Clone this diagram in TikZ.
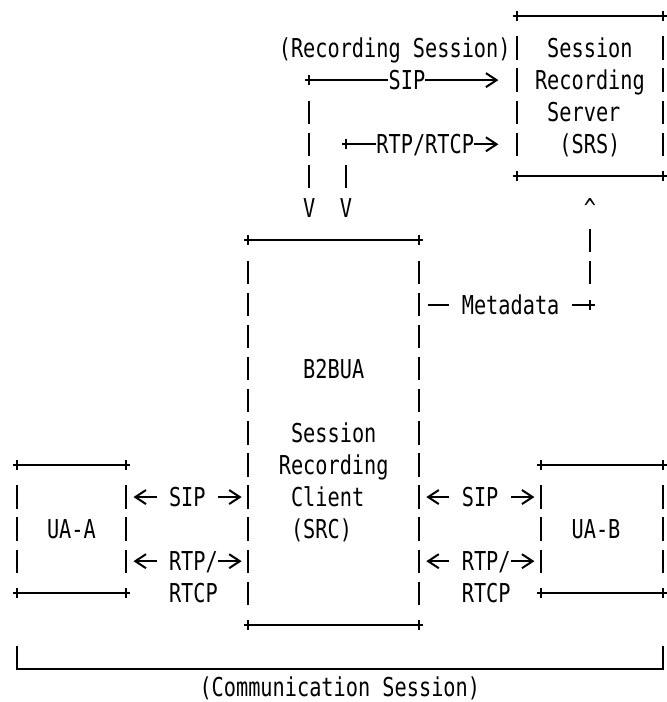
\documentclass[tikz,border=0pt]{standalone}
\usepackage{fontspec}
\usetikzlibrary{arrows.meta,calc}
\newfontfamily\asciifont[FakeStretch=0.7794]{DejaVu Sans Mono}
\tikzset{
  txt/.style={font=\asciifont\fontsize{19.5pt}{24pt}\selectfont, inner sep=0pt,
              text height=14.22pt, text depth=0pt, anchor=center},
  boxn/.style={rectangle, draw=none, inner sep=0pt, outer sep=0pt},
  hln/.style={line width=1.5pt},
  vbar/.style={line width=1.5pt, dash pattern=on 17.48pt off 6.5725pt},
  >={Straight Barb[length=8pt,width=10.5pt]}
}
\newcommand\asciibox[1]{%
  \draw[hln] ([xshift=-3pt]#1.north west) -- ([xshift=3pt]#1.north east);
  \draw[hln] ([xshift=-3pt]#1.south west) -- ([xshift=3pt]#1.south east);
  \draw[hln] ([yshift=3.75pt]#1.north west) -- ([yshift=-3.75pt]#1.north west);
  \draw[hln] ([yshift=3.75pt]#1.north east) -- ([yshift=-3.75pt]#1.north east);
  \draw[hln] ([yshift=3.75pt]#1.south west) -- ([yshift=-3.75pt]#1.south west);
  \draw[hln] ([yshift=3.75pt]#1.south east) -- ([yshift=-3.75pt]#1.south east);
  \draw[vbar] ([yshift=-15.31pt]#1.north west) -- ([yshift=15.31pt]#1.south west);
  \draw[vbar] ([yshift=-15.31pt]#1.north east) -- ([yshift=15.31pt]#1.south east);
}
\newcommand\plustick[1]{%
  \draw[hln] ([yshift=3.75pt]#1) -- ([yshift=-3.75pt]#1);
}
\begin{document}
\begin{tikzpicture}[x=9.15pt, y=-24.0525pt]
  \fill[white] (-1.3525,-0.4989) rectangle (53.238,21.3907);
  \useasboundingbox (-1.3525,-0.4989) rectangle (53.238,21.3907);

  % boxes
  \node[boxn, minimum width=109.8pt, minimum height=120.2625pt] (srs) at (47,2.5) {};
  \node[boxn, minimum width=128.1pt, minimum height=288.63pt] (b2bua) at (26,13) {};
  \node[boxn, minimum width=82.35pt, minimum height=96.21pt] (uaa) at (4.5,16) {};
  \node[boxn, minimum width=91.5pt, minimum height=96.21pt] (uab) at (48,16) {};
  \asciibox{srs}
  \asciibox{b2bua}
  \asciibox{uaa}
  \asciibox{uab}

  % box texts
  \node[txt] (srs1) at (47,1) {Session};
  \node[txt] (srs2) at (47,2) {Recording};
  \node[txt] (srs3) at (46.5,3) {Server};
  \node[txt] (srs4) at (47,4) {(SRS)};
  \node[txt] (src1) at (26,11) {B2BUA};
  \node[txt] (src2) at (26,13) {Session};
  \node[txt] (src3) at (26,14) {Recording};
  \node[txt] (src4) at (25.5,15) {Client};
  \node[txt] (src5) at (25,16) {(SRC)};
  \node[txt] (uaaT) at (4.5,16) {UA-A};
  \node[txt] (uabT) at (47.5,16) {UA-B};

  % labels and points
  \node[txt] (recsess) at (31,1) {(Recording Session)};
  \coordinate (c1) at (24,2);
  \node[txt] (sip2) at (32,2) {SIP};
  \coordinate (c2) at (27,4);
  \node[txt] (rtp4) at (33.5,4) {RTP/RTCP};
  \node[txt] (v1) at (24,6) {V};
  \node[txt] (v2) at (27,6) {V};
  \node[txt] (caret) at (47,6) {\textasciicircum};
  \node[txt] (meta) at (40.5,9) {Metadata};
  \coordinate (c3) at (47,9);
  \node[txt] (sipA) at (14,15) {SIP};
  \node[txt] (sipB) at (38,15) {SIP};
  \node[txt] (rtpA) at (14.5,17) {RTP/};
  \node[txt] (rtcpA) at (14.5,18) {RTCP};
  \node[txt] (rtpB) at (38.5,17) {RTP/};
  \node[txt] (rtcpB) at (38.5,18) {RTCP};
  \coordinate (bl) at (0,20);
  \coordinate (br) at (53,20);
  \node[txt] (comm) at (26.5,20.92) {(Communication Session)};

  % recording session connectors
  \draw[hln] ([xshift=-3pt]c1) -- (sip2.west);
  \draw[hln,->,shorten >=13.73pt] (sip2.east) -- (srs.west |- sip2);
  \plustick{c1}
  \draw[hln] ([xshift=-3pt]c2) -- (rtp4.west);
  \draw[hln,->,shorten >=13.73pt] (rtp4.east) -- (srs.west |- rtp4);
  \plustick{c2}
  \draw[vbar, shorten >=8.2pt] ([yshift=-15.31pt]c1) -- (v1.north);
  \draw[vbar, shorten >=8.2pt] ([yshift=-15.31pt]c2) -- (v2.north);

  % metadata
  \draw[hln, shorten <=6.9pt, shorten >=9.15pt] (b2bua.east |- meta) -- (meta.west);
  \draw[hln, shorten <=9.15pt] (meta.east) -- ([xshift=3.5pt]c3);
  \plustick{c3}
  \draw[vbar, shorten >=8.2pt] ([yshift=15.31pt]c3) -- (caret.south);

  % communication session
  \draw[hln,->,shorten <=9.15pt,shorten >=5.4pt] (sipA.west) -- (uaa.east |- sipA);
  \draw[hln,->,shorten <=9.15pt,shorten >=5pt] (sipA.east) -- (b2bua.west |- sipA);
  \draw[hln,->,shorten <=9.15pt,shorten >=5.4pt] (sipB.west) -- (b2bua.east |- sipB);
  \draw[hln,->,shorten <=9.15pt,shorten >=5pt] (sipB.east) -- (uab.west |- sipB);
  \draw[hln,->,shorten <=9.15pt,shorten >=5.4pt] (rtpA.west) -- (uaa.east |- rtpA);
  \draw[hln,->,shorten >=5pt] (rtpA.east) -- (b2bua.west |- rtpA);
  \draw[hln,->,shorten <=9.15pt,shorten >=5.4pt] (rtpB.west) -- (b2bua.east |- rtpB);
  \draw[hln,->,shorten >=5pt] (rtpB.east) -- (uab.west |- rtpB);

  \draw[hln] ([yshift=8.74pt]bl) -- ([yshift=-8.74pt]bl) -- ([yshift=-8.74pt]br) -- ([yshift=8.74pt]br);
\end{tikzpicture}
\end{document}
